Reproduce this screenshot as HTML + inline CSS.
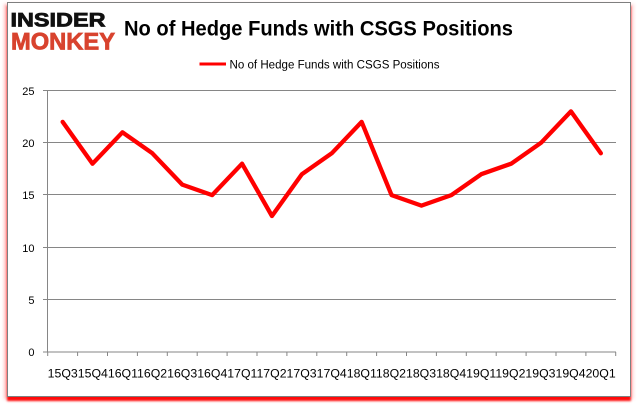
<!DOCTYPE html>
<html>
<head>
<meta charset="utf-8">
<style>
  html,body{margin:0;padding:0;background:#fff;}
  body{width:637px;height:408px;overflow:hidden;position:relative;}
  .frame{position:absolute;left:7px;top:2px;width:622px;height:393px;border:1px solid #7f7f7f;background:#fff;
    box-shadow:0 4px 2px rgba(255,0,0,0.95), -3px 2px 3px rgba(255,80,80,0.35), 3px 2px 3px rgba(255,120,120,0.25);}
  svg{position:absolute;left:0;top:0;}
</style>
</head>
<body>
<div class="frame"></div>
<svg width="637" height="408" viewBox="0 0 637 408" xmlns="http://www.w3.org/2000/svg">
  <!-- Logo -->
  <text x="10.5" y="26.5" font-family="Liberation Sans, sans-serif" font-weight="bold" font-size="19.5" fill="#111" stroke="#111" stroke-width="0.8" textLength="95" lengthAdjust="spacingAndGlyphs">INSIDER</text>
  <text x="11" y="49.5" font-family="Liberation Sans, sans-serif" font-weight="bold" font-size="24" fill="#d8432e" stroke="#d8432e" stroke-width="0.8" textLength="104" lengthAdjust="spacingAndGlyphs">MONKEY</text>
  <!-- Title -->
  <text x="124" y="35.5" font-family="Liberation Sans, sans-serif" font-weight="bold" font-size="21" fill="#000" textLength="389" lengthAdjust="spacingAndGlyphs">No of Hedge Funds with CSGS Positions</text>
  <!-- Legend -->
  <line x1="199.5" y1="64" x2="226" y2="64" stroke="#ff0000" stroke-width="3"/>
  <text x="229.5" y="68.5" font-family="Liberation Sans, sans-serif" font-size="11.5" fill="#000" textLength="210" lengthAdjust="spacingAndGlyphs">No of Hedge Funds with CSGS Positions</text>

  <!-- Gridlines -->
  <g stroke="#868686" stroke-width="1">
    <line x1="43" y1="90.5" x2="616" y2="90.5"/>
    <line x1="43" y1="142.5" x2="616" y2="142.5"/>
    <line x1="43" y1="194.5" x2="616" y2="194.5"/>
    <line x1="43" y1="247.5" x2="616" y2="247.5"/>
    <line x1="43" y1="299.5" x2="616" y2="299.5"/>
    <line x1="43" y1="352" x2="616" y2="352"/>
    <line x1="47.5" y1="90.5" x2="47.5" y2="352"/>
    <!-- x ticks -->
    <line x1="47.7" y1="352" x2="47.7" y2="356"/>
    <line x1="77.6" y1="352" x2="77.6" y2="356"/>
    <line x1="107.5" y1="352" x2="107.5" y2="356"/>
    <line x1="137.4" y1="352" x2="137.4" y2="356"/>
    <line x1="167.3" y1="352" x2="167.3" y2="356"/>
    <line x1="197.2" y1="352" x2="197.2" y2="356"/>
    <line x1="227.1" y1="352" x2="227.1" y2="356"/>
    <line x1="257.0" y1="352" x2="257.0" y2="356"/>
    <line x1="286.9" y1="352" x2="286.9" y2="356"/>
    <line x1="316.8" y1="352" x2="316.8" y2="356"/>
    <line x1="346.7" y1="352" x2="346.7" y2="356"/>
    <line x1="376.6" y1="352" x2="376.6" y2="356"/>
    <line x1="406.5" y1="352" x2="406.5" y2="356"/>
    <line x1="436.4" y1="352" x2="436.4" y2="356"/>
    <line x1="466.3" y1="352" x2="466.3" y2="356"/>
    <line x1="496.2" y1="352" x2="496.2" y2="356"/>
    <line x1="526.1" y1="352" x2="526.1" y2="356"/>
    <line x1="556.0" y1="352" x2="556.0" y2="356"/>
    <line x1="585.9" y1="352" x2="585.9" y2="356"/>
    <line x1="615.7" y1="352" x2="615.7" y2="356"/>
  </g>

  <!-- Y labels -->
  <g font-family="Liberation Sans, sans-serif" font-size="11" fill="#000" text-anchor="end">
    <text x="34.5" y="95">25</text>
    <text x="34.5" y="147">20</text>
    <text x="34.5" y="199">15</text>
    <text x="34.5" y="252">10</text>
    <text x="34.5" y="304">5</text>
    <text x="34.5" y="356">0</text>
  </g>

  <!-- X labels -->
  <text x="47.7" y="377.7" font-family="Liberation Sans, sans-serif" font-size="11.5" fill="#000" textLength="568" lengthAdjust="spacingAndGlyphs">15Q315Q416Q116Q216Q316Q417Q117Q217Q317Q418Q118Q218Q318Q419Q119Q219Q319Q420Q1</text>

  <!-- Series -->
  <polyline fill="none" stroke="#ff0000" stroke-width="4.3" stroke-linejoin="round" stroke-linecap="round"
    points="62.65,121.9 92.55,163.7 122.45,132.3 152.35,153.3 182.25,184.6 212.15,195.1 242.05,163.7 271.95,216.0 301.85,174.2 331.75,153.3 361.65,121.9 391.55,195.1 421.45,205.6 451.35,195.1 481.25,174.2 511.15,163.7 541.05,142.8 570.95,111.4 600.85,153.3"/>
</svg>
</body>
</html>
